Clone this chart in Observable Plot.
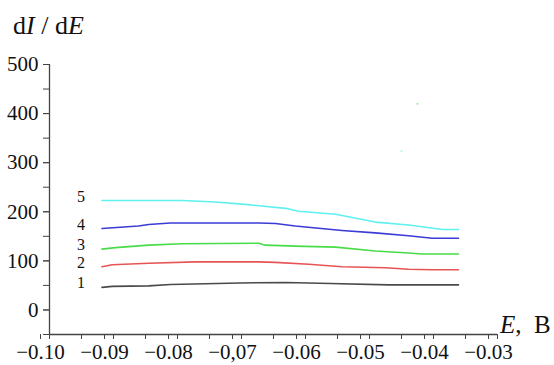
<!DOCTYPE html>
<html>
<head>
<meta charset="utf-8">
<script src="https://cdn.jsdelivr.net/npm/d3@7"></script>
<script src="https://cdn.jsdelivr.net/npm/@observablehq/plot@0.6"></script>
<style>
  html, body { margin: 0; padding: 0; background: #fff; }
  #chart { width: 554px; height: 365px; }
  #chart svg, #chart svg text { font-family: "Liberation Serif", "Times New Roman", serif !important; }
</style>
</head>
<body>
<div id="chart"></div>
<script>
// ---- data ----
const seriesNames = ["1", "2", "3", "4", "5"];

const E1 = [-0.0918, -0.0902, -0.0845, -0.0811, -0.0702, -0.0631, -0.0561, -0.0470, -0.0361];
const I1 = [46, 48, 49, 52, 55, 56, 54, 51, 51];

const E2 = [-0.0918, -0.0902, -0.0845, -0.0772, -0.0673, -0.0647, -0.0595, -0.0543, -0.0475, -0.0439, -0.0402, -0.0361];
const I2 = [88, 92, 95, 98, 98, 97, 93, 88, 86, 83, 82, 82];

const E3 = [-0.0918, -0.0897, -0.0845, -0.0793, -0.0673, -0.0663, -0.0616, -0.0553, -0.0491, -0.0439, -0.0418, -0.0361];
const I3 = [124, 127, 132, 135, 136, 132, 130, 128, 120, 116, 114, 114];

const E4 = [-0.0918, -0.0861, -0.0845, -0.0811, -0.0673, -0.0647, -0.0616, -0.0543, -0.0491, -0.0439, -0.0402, -0.0361];
const I4 = [166, 171, 174, 177, 177, 176, 171, 162, 157, 151, 146, 146];

const E5 = [-0.0918, -0.0793, -0.0741, -0.0694, -0.0631, -0.0611, -0.0553, -0.0491, -0.0439, -0.0386, -0.0361];
const I5 = [223, 223, 220, 215, 207, 201, 195, 179, 173, 164, 164];

// two stray specks visible in the reference
const strayE = [-0.0450, -0.0425];
const strayI = [324, 420];
const strayS = ["5", "3"];

const xTickValues = [-0.10, -0.09, -0.08, -0.07, -0.06, -0.05, -0.04, -0.03];
const xTickLabels = ["\u22120.10", "\u22120.09", "\u22120.08", "\u22120,07", "\u22120.06", "\u22120.05", "\u22120.04", "\u22120.03"];
const xMinorTicks = [-0.10, -0.095, -0.09, -0.085, -0.08, -0.075, -0.07, -0.065, -0.06, -0.055, -0.05, -0.045, -0.04, -0.035, -0.03];
const yTickValues = [0, 100, 200, 300, 400, 500];
const yTickLabels = ["0", "100", "200", "300", "400", "500"];
const yMinorTicks = [-50, 0, 50, 100, 150, 200, 250, 300, 350, 400, 450, 500];

const palette = ["#4a4a4a", "#e65454", "#48dc48", "#3b3bd6", "#5ff0f0"];

// ---- build table ----
const Es = [E1, E2, E3, E4, E5];
const Is = [I1, I2, I3, I4, I5];
const rows = [];
seriesNames.forEach((s, k) => Es[k].forEach((e, i) => rows.push({s, E: e, I: Is[k][i]})));
const stray = strayE.map((e, i) => ({E: e, I: strayI[i], s: strayS[i]}));

const xLabel = d => xTickLabels[xTickValues.findIndex(v => Math.abs(v - d) < 1e-9)];
const yLabel = d => yTickLabels[yTickValues.findIndex(v => Math.abs(v - d) < 1e-9)];

const serif = "Liberation Serif";
const axisColor = "#444";
const plot = Plot.plot({
  width: 554,
  height: 365,
  marginLeft: 49,
  marginRight: 57,
  marginTop: 64,
  marginBottom: 31,
  style: {fontFamily: serif, background: "#fff", color: "#111"},
  x: {domain: [-0.10, -0.03], axis: null},
  y: {domain: [-50, 500], axis: null},
  color: {domain: seriesNames, range: palette},
  marks: [
    Plot.axisX({ticks: xMinorTicks, tickSize: 5, tickFormat: () => "", label: null, stroke: axisColor}),
    Plot.axisX({ticks: xTickValues, tickSize: 5, tickPadding: 5, tickFormat: xLabel, fontSize: 21, fontFamily: serif, dx: -9, label: null, stroke: axisColor, fill: "#111"}),
    Plot.axisY({ticks: yMinorTicks, tickSize: 6, tickFormat: () => "", label: null, stroke: axisColor}),
    Plot.axisY({ticks: yTickValues, tickSize: 6, tickPadding: 5, tickFormat: yLabel, fontSize: 21, fontFamily: serif, label: null, stroke: axisColor, fill: "#111"}),
    Plot.ruleX([-0.10], {y1: -50, y2: 500, stroke: axisColor, strokeWidth: 1.3}),
    Plot.ruleY([-50], {x1: -0.10, x2: -0.03, stroke: axisColor, strokeWidth: 1.3}),
    Plot.line(rows, {x: "E", y: "I", z: "s", stroke: "s", strokeWidth: 1.6}),
    Plot.text(rows, Plot.selectFirst({x: "E", y: "I", z: "s", text: "s", dx: -21, dy: -4, fontSize: 16, fontFamily: serif, fill: "#111"})),
    Plot.dot(stray, {x: "E", y: "I", r: 1, fill: "s", fillOpacity: 0.6})
  ]
});

document.getElementById("chart").appendChild(plot);

// axis titles with italic symbols
const svg = d3.select(plot);
const xs = plot.scale("x"), ys = plot.scale("y");
const title = svg.append("text")
  .attr("x", 13).attr("y", 34)
  .attr("text-anchor", "start")
  .attr("font-family", serif)
  .attr("font-size", 26).attr("fill", "#111");
title.append("tspan").text("d");
title.append("tspan").attr("font-style", "italic").text("I");
title.append("tspan").text(" / d");
title.append("tspan").attr("font-style", "italic").text("E");

const xt = svg.append("text")
  .attr("x", xs.apply(-0.03) + 3).attr("y", ys.apply(-50) - 1)
  .attr("text-anchor", "start")
  .attr("font-family", serif)
  .attr("font-size", 25).attr("fill", "#111")
  .style("white-space", "pre");
xt.append("tspan").attr("font-style", "italic").text("E");
xt.append("tspan").text(",  B");
</script>
</body>
</html>
